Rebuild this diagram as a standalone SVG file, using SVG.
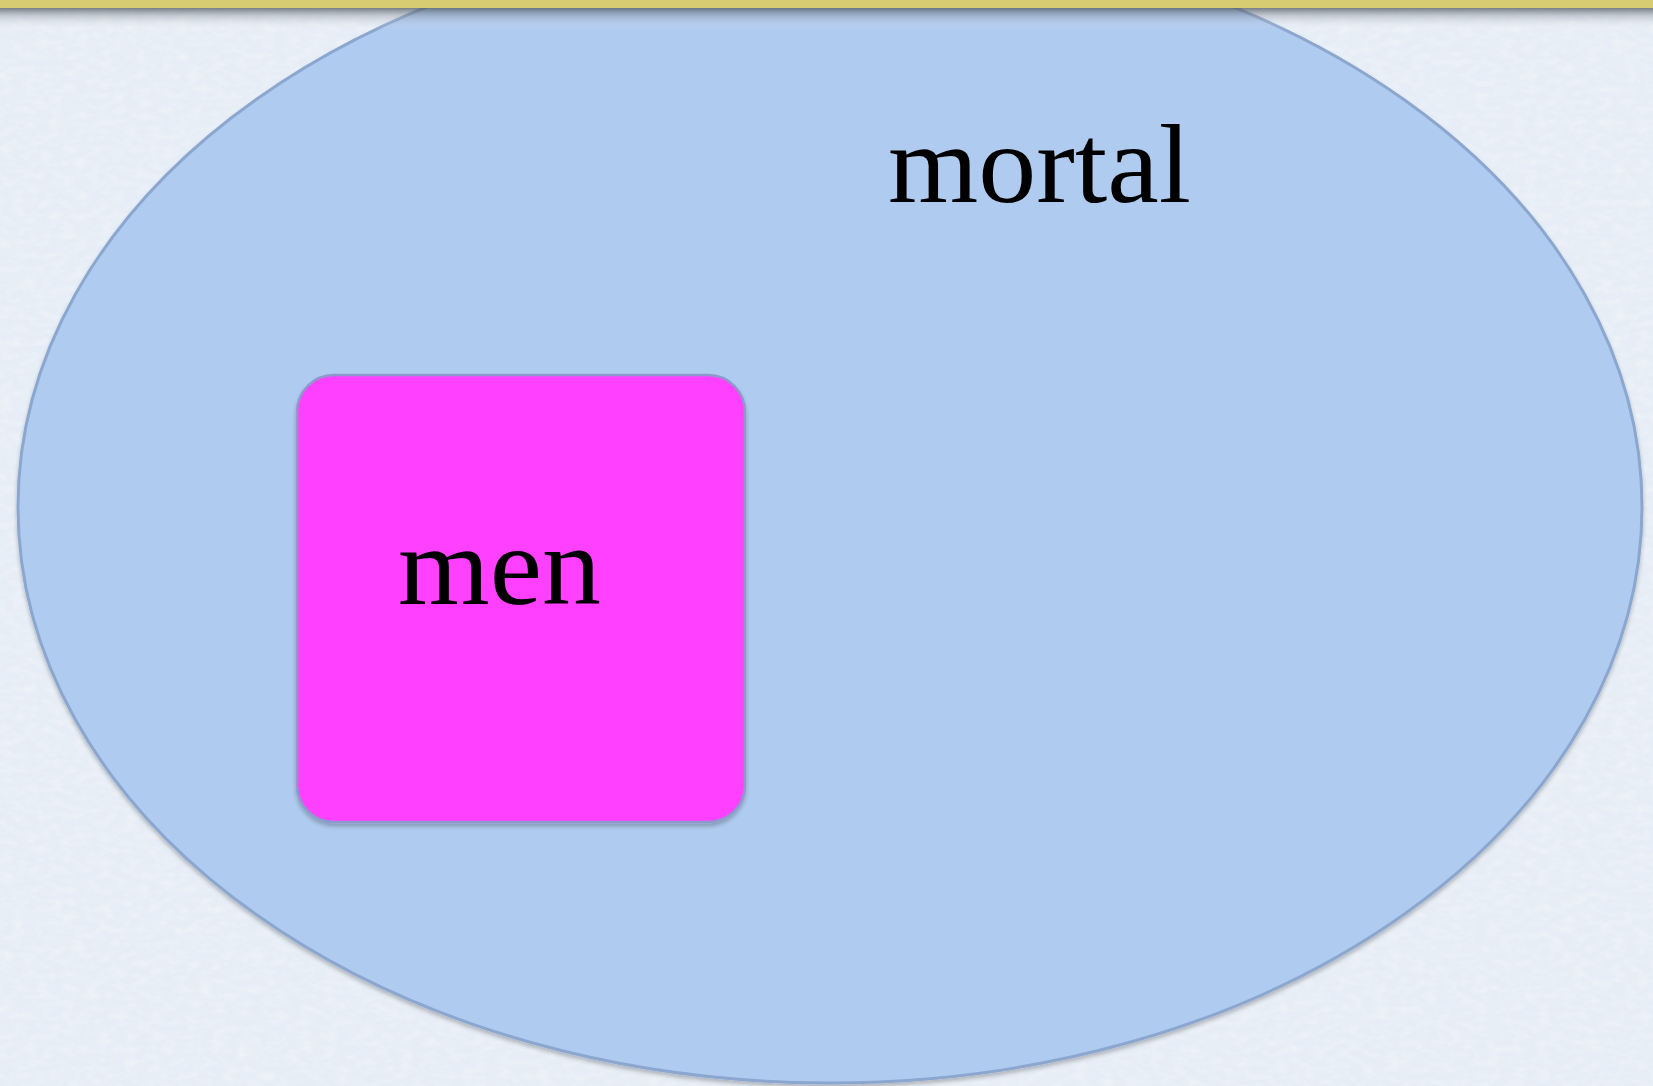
<svg xmlns="http://www.w3.org/2000/svg" width="1653" height="1086" viewBox="0 0 1653 1086">
  <style>
    .label { font-family: "Liberation Serif", "Times New Roman", serif; font-size: 112px; fill: #000000; }
  </style>
  <defs>
    <linearGradient id="barShadow" x1="0" y1="0" x2="0" y2="1">
      <stop offset="0" stop-color="#505860" stop-opacity="0.75"/>
      <stop offset="0.35" stop-color="#7a828c" stop-opacity="0.35"/>
      <stop offset="1" stop-color="#ffffff" stop-opacity="0"/>
    </linearGradient>
    <filter id="paper" x="0" y="0" width="100%" height="100%">
      <feTurbulence type="fractalNoise" baseFrequency="0.08 0.15" numOctaves="3" seed="4" result="n"/>
      <feColorMatrix in="n" type="matrix" values="0 0 0 0 1  0 0 0 0 1  0 0 0 0 1  0 0 0 -1.2 0.75" result="w"/>
      <feComposite in="w" in2="SourceGraphic" operator="in"/>
    </filter>
    <filter id="shadow" x="-5%" y="-5%" width="110%" height="115%">
      <feGaussianBlur in="SourceAlpha" stdDeviation="2"/>
      <feOffset dx="0" dy="3" result="b"/>
      <feComponentTransfer><feFuncA type="linear" slope="0.25"/></feComponentTransfer>
      <feMerge><feMergeNode/><feMergeNode in="SourceGraphic"/></feMerge>
    </filter>
  </defs>

  <!-- background -->
  <rect x="0" y="0" width="1653" height="1086" fill="#e6edf6"/>
  <rect x="0" y="0" width="1653" height="1086" fill="#e6edf6" filter="url(#paper)" opacity="0.5"/>

  <g id="mortal">
    <ellipse cx="830" cy="507" rx="812" ry="576" fill="#b0cbf0" stroke="#8ba7cf" stroke-width="3" filter="url(#shadow)"/>
    <text class="label" x="888" y="202" textLength="303" lengthAdjust="spacingAndGlyphs">mortal</text>
  </g>

  <g id="men">
    <rect x="297" y="375" width="448" height="447" rx="37" ry="37" fill="#ff40ff" stroke="#8e98cc" stroke-width="2.5" filter="url(#shadow)"/>
    <text class="label" x="398" y="604" textLength="203" lengthAdjust="spacingAndGlyphs">men</text>
  </g>

  <g id="connectors"></g>

  <!-- top bar and its shadow -->
  <rect x="0" y="8" width="1653" height="22" fill="url(#barShadow)"/>
  <rect x="0" y="0" width="1653" height="8" fill="#d8cc72"/>
</svg>
